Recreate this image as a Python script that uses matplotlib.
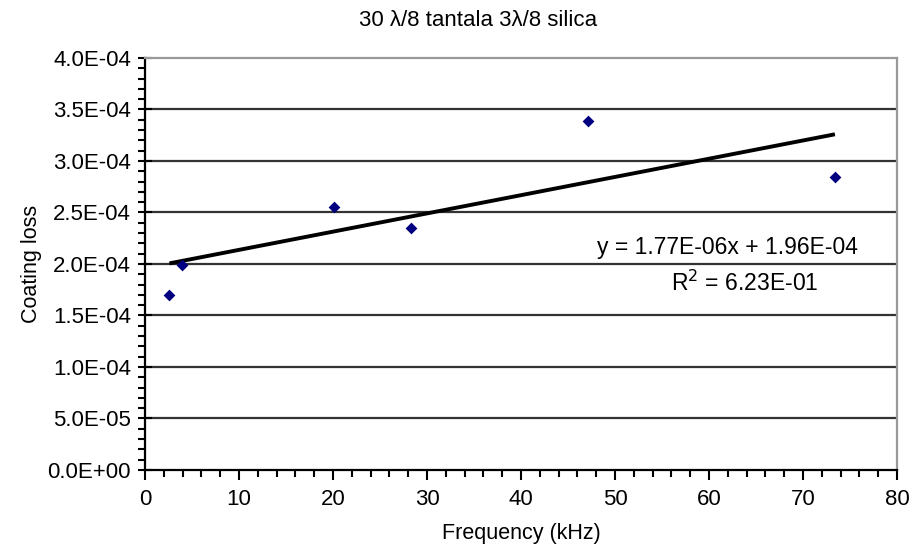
import numpy as np
import matplotlib
matplotlib.use("Agg")
import matplotlib.pyplot as plt
from matplotlib.ticker import MultipleLocator

plt.rcParams['font.family'] = ['Liberation Sans', 'DejaVu Sans']

# =========================
# Data
# =========================
freq_khz = [2.6, 3.9, 20.1, 28.3, 47.1, 73.4]
coating_loss = [1.70e-4, 1.99e-4, 2.55e-4, 2.35e-4, 3.39e-4, 2.84e-4]

slope = 1.77e-06
intercept = 1.96e-04
r_squared = 6.23e-01

title = "30 \u03bb/8 tantala 3\u03bb/8 silica"

# =========================
# Figure
# =========================
fig = plt.figure(figsize=(9.23, 5.49), dpi=100)
ax = fig.add_axes([0.1571, 0.1439, 0.8147, 0.7505])

ax.set_xlim(0, 80)
ax.set_ylim(0, 4.0e-4)

# grid lines at major y ticks
for yv in np.arange(0.5e-4, 3.6e-4, 0.5e-4):
    ax.axhline(yv, color="#333333", lw=1.6, zorder=1)

# trend line
xfit = np.array([min(freq_khz), max(freq_khz)])
ax.plot(xfit, slope * xfit + intercept, color="black", lw=2.8, zorder=2,
        solid_capstyle="butt")

# data points
ax.scatter(freq_khz, coating_loss, marker="D", s=36, color="#000080",
           zorder=3, linewidths=0)

# frame
for side in ["top", "right"]:
    ax.spines[side].set_color("#999999")
    ax.spines[side].set_linewidth(1.6)
for side in ["left", "bottom"]:
    ax.spines[side].set_color("black")
    ax.spines[side].set_linewidth(1.6)

# ticks
ax.xaxis.set_major_locator(MultipleLocator(10))
ax.xaxis.set_minor_locator(MultipleLocator(2))
ax.yaxis.set_major_locator(MultipleLocator(0.5e-4))
ax.yaxis.set_minor_locator(MultipleLocator(1e-5))
ax.yaxis.set_major_formatter(
    plt.FuncFormatter(lambda v, p: "%.1E" % v))

ax.tick_params(axis="y", which="major", direction="inout", length=10,
               width=1.5, labelsize=16, pad=5)
ax.tick_params(axis="y", which="minor", direction="out", length=5, width=1.5)
ax.tick_params(axis="x", which="major", direction="out", length=7,
               width=1.5, labelsize=16, pad=7)
ax.tick_params(axis="x", which="minor", direction="out", length=5, width=1.5)
ax.tick_params(top=False, right=False, which="both")

ax.set_xlabel("Frequency (kHz)", fontsize=15.5, labelpad=9)
ax.set_ylabel("Coating loss", fontsize=15.5, labelpad=4)
fig.text(0.518, 0.963, title, ha="center", va="center", fontsize=16)

# trendline label
ax.text(0.775, 0.541, "y = %.2Ex + %.2E" % (slope, intercept),
        transform=ax.transAxes, ha="center", va="center", fontsize=16.5)
ax.text(0.797, 0.454, "R$^2$ = %.2E" % r_squared,
        transform=ax.transAxes, ha="center", va="center", fontsize=16.5)

fig.savefig("out.png", dpi=100)
